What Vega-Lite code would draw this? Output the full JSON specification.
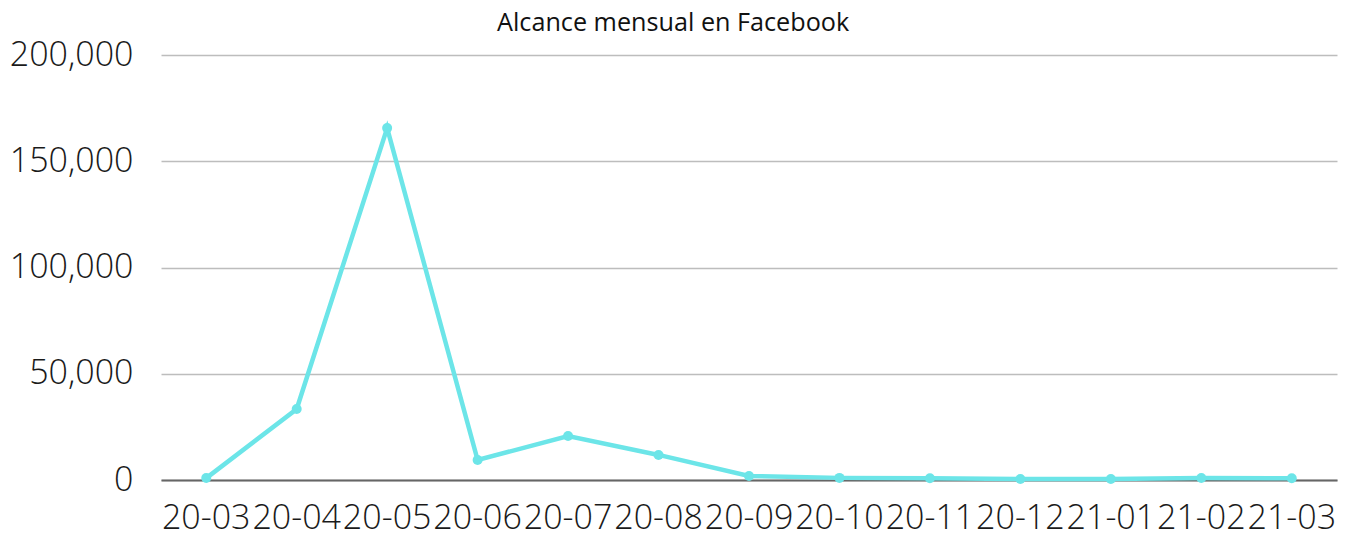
{
  "$schema": "https://vega.github.io/schema/vega-lite/v6.json",
  "width": 1176,
  "height": 425,
  "autosize": {"type": "none"},
  "padding": {"left": 161, "top": 55, "right": 13, "bottom": 57},
  "background": "white",
  "title": {
    "text": "Alcance mensual en Facebook",
    "font": "Open Sans",
    "fontSize": 25.2,
    "fontWeight": "normal",
    "color": "#111111",
    "anchor": "middle",
    "frame": "bounds",
    "offset": 2
  },
  "config": {"view": {"stroke": null}},
  "data": {
    "values": [
      {"mes": "20-03", "alcance": 900},
      {"mes": "20-04", "alcance": 33400},
      {"mes": "20-05", "alcance": 165600},
      {"mes": "20-06", "alcance": 9400},
      {"mes": "20-07", "alcance": 20700},
      {"mes": "20-08", "alcance": 11800},
      {"mes": "20-09", "alcance": 1900},
      {"mes": "20-10", "alcance": 1000},
      {"mes": "20-11", "alcance": 800},
      {"mes": "20-12", "alcance": 500},
      {"mes": "21-01", "alcance": 500},
      {"mes": "21-02", "alcance": 900},
      {"mes": "21-03", "alcance": 800}
    ]
  },
  "mark": {"type": "line", "color": "#6ce5e8", "strokeWidth": 4.5, "point": {"filled": true, "size": 100, "color": "#6ce5e8", "opacity": 1}},
  "encoding": {
    "x": {
      "field": "mes",
      "type": "ordinal",
      "sort": null,
      "scale": {"type": "band", "paddingInner": 0, "paddingOuter": 0},
      "axis": {
        "title": null,
        "labelAngle": 0,
        "labelFont": "Open Sans",
        "labelFontWeight": 300,
        "labelFontSize": 34,
        "labelColor": "#1a1a1a",
        "labelPadding": 21,
        "ticks": false,
        "domainColor": "#666666",
        "domainWidth": 2,
        "labelOverlap": false,
        "grid": false
      }
    },
    "y": {
      "field": "alcance",
      "type": "quantitative",
      "scale": {"domain": [0, 200000], "nice": false},
      "axis": {
        "title": null,
        "values": [0, 50000, 100000, 150000, 200000],
        "format": ",d",
        "labelFont": "Open Sans",
        "labelFontWeight": 300,
        "labelFontSize": 34,
        "labelColor": "#1a1a1a",
        "labelPadding": 28,
        "ticks": false,
        "domain": false,
        "gridColor": "#bdbdbd",
        "gridWidth": 1.5
      }
    }
  }
}
